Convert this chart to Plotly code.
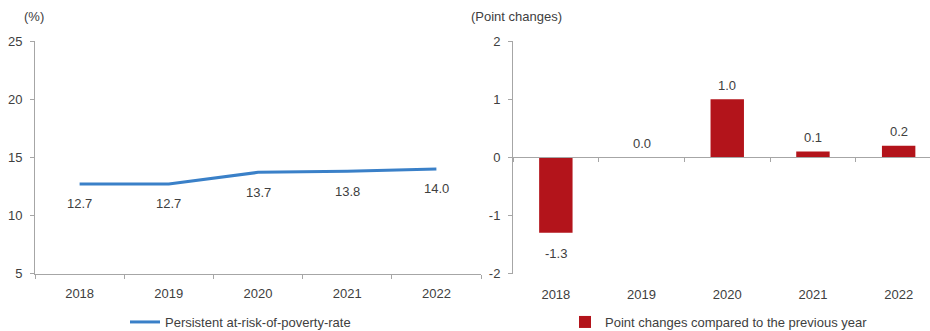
import plotly.graph_objects as go

# Data
years = ["2018", "2019", "2020", "2021", "2022"]
poverty_rate = [12.7, 12.7, 13.7, 13.8, 14.0]
point_changes = [-1.3, 0.0, 1.0, 0.1, 0.2]
right_ticks = [-2, -1, 0, 1, 2]

line_name = "Persistent at-risk-of-poverty-rate"
bar_name = "Point changes compared to the previous year"

W, H = 930, 331
FONT = "Liberation Sans, Arial, sans-serif"
FS = 13
TXT = "#404040"
AX = "#a6a6a6"
BLUE = "#3a80c8"
RED = "#b3141b"

# plot-area geometry (paper fractions)
y_dom = [1 - 273.5 / H, 1 - 41 / H]
left_dom = [35 / W, 481 / W]
right_dom = [513 / W, 1.0]
right_cat_w = 85.7
right_max = -0.5 + (W - 513) / right_cat_w

fig = go.Figure()

fig.add_trace(go.Scatter(
    x=years, y=poverty_rate, mode="lines", name=line_name,
    line=dict(color=BLUE, width=3), xaxis="x", yaxis="y", legend="legend",
))

fig.add_trace(go.Bar(
    x=years, y=point_changes, name=bar_name, marker=dict(color=RED, line=dict(width=0)),
    xaxis="x2", yaxis="y2", legend="legend2",
))

# invisible helper trace that carries the zero-line axis of the right panel
fig.add_trace(go.Scatter(
    x=years, y=[None] * len(years), mode="markers", showlegend=False,
    hoverinfo="skip", xaxis="x3", yaxis="y2",
))

label_font = dict(family=FONT, size=FS, color=TXT)
annotations = []
for i, v in enumerate(poverty_rate):
    annotations.append(dict(
        x=i, y=v, xref="x", yref="y", text=f"{v:.1f}", showarrow=False,
        yshift=-20, font=label_font,
    ))
for i, v in enumerate(point_changes):
    annotations.append(dict(
        x=i, y=v, xref="x2", yref="y2", text=f"{v:.1f}", showarrow=False,
        yshift=14 if v >= 0 else -21, font=label_font,
    ))
annotations.append(dict(
    x=22 / W, y=1 - 16 / H, xref="paper", yref="paper", text="(%)", showarrow=False,
    xanchor="left", yanchor="middle", font=label_font,
))
annotations.append(dict(
    x=469 / W, y=1 - 16 / H, xref="paper", yref="paper", text="(Point changes)",
    showarrow=False, xanchor="left", yanchor="middle", font=label_font,
))

common_x = dict(
    type="category", categoryorder="array", categoryarray=years,
    showgrid=False, zeroline=False, tickson="boundaries",
    ticks="outside", ticklen=4, tickcolor=AX, linecolor=AX, linewidth=1,
    tickfont=label_font, fixedrange=True,
)
common_y = dict(
    showgrid=False, zeroline=False, ticks="outside", ticklen=4, tickcolor=AX,
    showline=True, linecolor=AX, linewidth=1,
    tickfont=label_font, ticklabelstandoff=5,
)

zero_pos = y_dom[0] + (0 - (-2)) / (2 - (-2)) * (y_dom[1] - y_dom[0])

fig.update_layout(
    width=W, height=H, margin=dict(l=0, r=0, t=0, b=0, autoexpand=False),
    paper_bgcolor="white", plot_bgcolor="white",
    font=label_font,
    xaxis=dict(common_x, domain=left_dom, anchor="y", showline=True,
               range=[-0.5, 4.5], ticklabelstandoff=8),
    yaxis=dict(common_y, domain=y_dom, anchor="x", range=[5, 25], dtick=5),
    xaxis2=dict(common_x, domain=right_dom, anchor="y2", showline=False,
                ticks="", range=[-0.5, right_max], ticklabelstandoff=11),
    yaxis2=dict(common_y, domain=y_dom, anchor="x2", range=[-2, 2],
                tickvals=right_ticks, ticktext=[str(t) for t in right_ticks]),
    xaxis3=dict(common_x, domain=right_dom, overlaying="x2", anchor="free",
                position=zero_pos, showline=True, showticklabels=False,
                range=[-0.5, right_max], side="bottom"),
    bargap=0.61,
    showlegend=True,
    legend=dict(orientation="h", x=125 / W, y=1 - 322 / H, xanchor="left",
                yanchor="middle", font=label_font,
                bgcolor="rgba(0,0,0,0)", itemwidth=30),
    legend2=dict(orientation="h", x=565 / W, y=1 - 322 / H, xanchor="left",
                 yanchor="middle", font=label_font,
                 bgcolor="rgba(0,0,0,0)", itemwidth=30),
    annotations=annotations,
)

fig.write_html("out.html")
